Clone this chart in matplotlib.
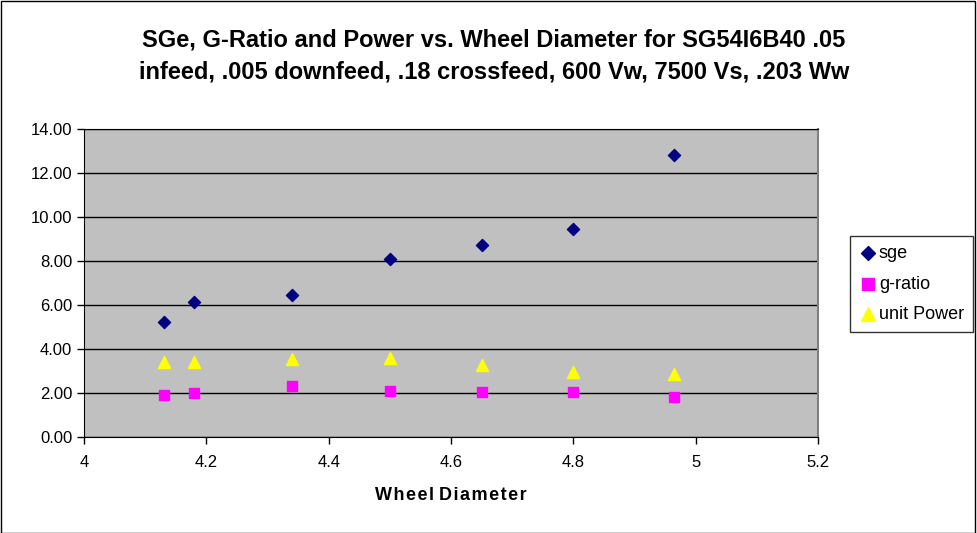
import matplotlib
matplotlib.use("Agg")
import matplotlib.pyplot as plt
from matplotlib.patches import Rectangle

plt.rcParams['font.family'] = ['Liberation Sans', 'DejaVu Sans']

# wheel diameter
diameter = [4.13, 4.18, 4.34, 4.50, 4.65, 4.80, 4.965]
sge = [5.21, 6.15, 6.44, 8.10, 8.73, 9.45, 12.82]
g_ratio = [1.91, 1.99, 2.32, 2.10, 2.03, 2.03, 1.83]
unit_power = [3.42, 3.40, 3.55, 3.61, 3.27, 2.94, 2.86]

W, H = 978, 533
fig = plt.figure(figsize=(W / 100, H / 100), dpi=100)
fig.set_facecolor('white')
ax = fig.add_axes([84 / W, 1 - 437 / H, (818 - 84) / W, (437 - 129) / H])
ax.set_facecolor('#C0C0C0')

ax.scatter(diameter, sge, marker='D', s=38, color='#000080', label='sge', zorder=3)
ax.scatter(diameter, g_ratio, marker='s', s=55, color='#FF00FF', label='g-ratio', zorder=3)
ax.scatter(diameter, unit_power, marker='^', s=75, color='#FFFF00', label='unit Power', zorder=3)

ax.set_xlim(4, 5.2)
ax.set_ylim(0, 14)
ax.set_xticks([4, 4.2, 4.4, 4.6, 4.8, 5, 5.2])
ax.set_xticklabels(['4', '4.2', '4.4', '4.6', '4.8', '5', '5.2'])
ax.set_yticks(range(0, 15, 2))
ax.set_yticklabels(['%.2f' % v for v in range(0, 15, 2)])
ax.tick_params(labelsize=12, length=5, width=1, color='black', direction='out')
ax.tick_params(axis='x', pad=8)
ax.grid(axis='y', color='black', linewidth=1)
ax.set_axisbelow(True)

ax.spines['left'].set_color('black')
ax.spines['bottom'].set_color('black')
ax.spines['right'].set_color('#808080')
ax.spines['top'].set_color('black')
ax.spines['right'].set_linewidth(1.5)

ax.set_xlabel('W h e e l  D i a m e t e r'.replace(' ', '\u200a').replace('\u200a\u200a', ' '),
              fontsize=13, fontweight='bold', labelpad=12)

fig.text(494 / W, 1 - 40 / H,
         'SGe, G-Ratio and Power vs. Wheel Diameter for SG54I6B40 .05',
         ha='center', va='center', fontsize=17, fontweight='bold')
fig.text(494 / W, 1 - 72 / H,
         'infeed, .005 downfeed, .18 crossfeed, 600 Vw, 7500 Vs, .203 Ww',
         ha='center', va='center', fontsize=17, fontweight='bold')

leg = fig.legend(loc='upper left', bbox_to_anchor=(850 / W, 1 - 236 / H),
                 fontsize=13, frameon=True, fancybox=False, edgecolor='black',
                 handletextpad=0.1, handlelength=1.0, borderpad=0.5,
                 labelspacing=0.75, borderaxespad=0, markerscale=1.15)
leg.get_frame().set_linewidth(1)

fig.patches.append(Rectangle((0.5 / W, 0.5 / H), 1 - 3 / W, 1 - 1.5 / H,
                             transform=fig.transFigure, fill=False,
                             edgecolor='black', linewidth=1))

fig.savefig('out.png', dpi=100)
